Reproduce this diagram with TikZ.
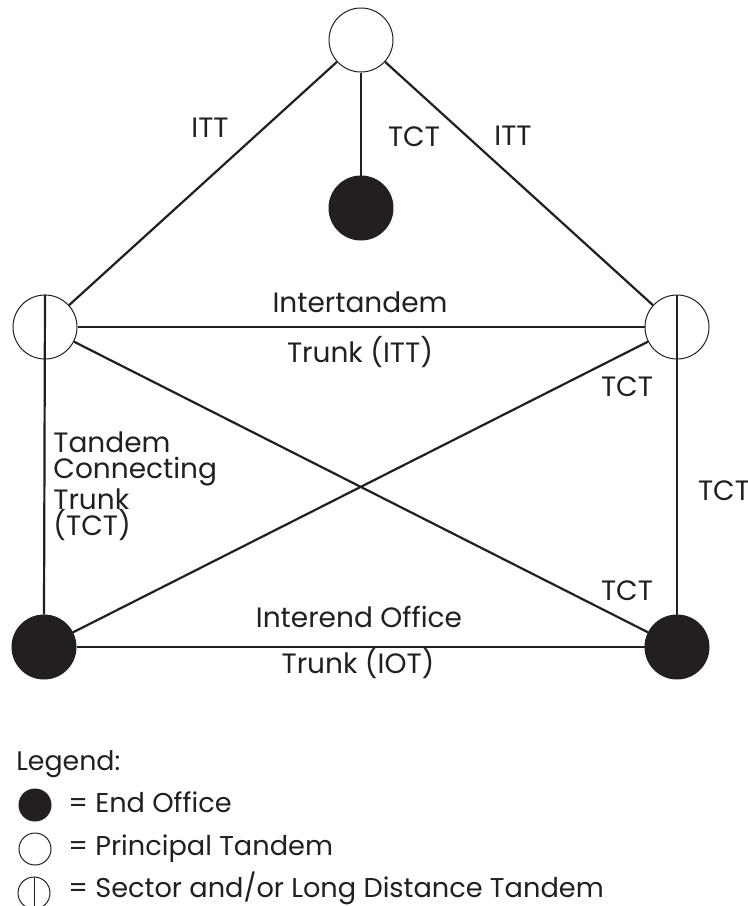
\documentclass[tikz,border=0pt]{standalone}
\usepackage{fontspec}
\setmainfont{Poppins}
\usepackage{tikz}
\usetikzlibrary{positioning}
\definecolor{trunkblack}{RGB}{35,31,32}
\tikzset{
  endoffice/.style={circle, fill=trunkblack, draw=trunkblack, line width=0.5pt, minimum size=32pt, inner sep=0pt},
  tandem/.style={circle, draw=trunkblack, fill=white, line width=0.5pt, minimum size=32pt, inner sep=0pt},
  trunk/.style={draw=trunkblack, line width=1.1pt},
  lbl/.style={font=\fontsize{14}{16}\selectfont, text=trunkblack, inner sep=0pt, anchor=base},
  keylbl/.style={font=\fontsize{13.6}{15}\selectfont, text=trunkblack, inner sep=0pt, anchor=base west},
}

\begin{document}
\begin{tikzpicture}[x=0.5pt, y=-0.5pt]
    \useasboundingbox (0,0) rectangle (748,906);

    % Offices
    \node[tandem] (pt) at (361,40) {};
    \node[endoffice] (eoT) at (361,208) {};
    \node[tandem] (stL) at (45,327) {};
    \node[tandem] (stR) at (677,327) {};
    \node[endoffice] (eoL) at (44,647) {};
    \node[endoffice] (eoR) at (677,647) {};

    % Trunks
    \draw[trunk] (pt) -- (stL);
    \draw[trunk] (pt) -- (stR);
    \draw[trunk] (pt.south) -- (eoT.north);
    \draw[trunk] (stL) -- (stR);
    \draw[trunk] (stL) -- (eoR);
    \draw[trunk] (stR) -- (eoL);
    \draw[trunk] (stL.north) -- (eoL.north);
    \draw[trunk] (stR.north) -- (eoR.north);
    \draw[trunk] (eoL) -- (eoR);

    % Labels
    \node[lbl] (ittL) at (210,137) {ITT};
    \node[lbl] (tctT) at (414,146) {TCT};
    \node[lbl] (ittR) at (513,145) {ITT};
    \node[lbl] (itA) at (360,312) {Intertandem};
    \node[lbl] (itB) at (360,362) {Trunk (ITT)};
    \node[lbl] (tctA) at (627,396) {TCT};
    \node[lbl] (tctB) at (724,500) {TCT};
    \node[lbl] (tctC) at (627,600) {TCT};
    \node[lbl, anchor=north west, align=left, font=\fontsize{14}{13.3}\selectfont] (tctL) at (53,431) {Tandem\\Connecting\\Trunk\\(TCT)};
    \node[lbl] (iotA) at (359,627) {Interend Office};
    \node[lbl] (iotB) at (358,673) {Trunk (IOT)};

    % Legend
    \node[lbl, anchor=base west, font=\fontsize{13.4}{15}\selectfont] (legend) at (16,770) {Legend:};
    \node[endoffice, minimum size=16pt] (keyEO) at (35,805) {};
    \node[keylbl] (keyEOtxt) at (68,812) {= End Office};
    \node[tandem, minimum size=16pt] (keyPT) at (35,849) {};
    \node[keylbl] (keyPTtxt) at (68,855) {= Principal Tandem};
    \node[tandem, minimum size=16pt] (keyST) at (34,893) {};
    \draw[trunkblack, line width=0.4pt] (keyST.north) -- (keyST.south);
    \node[keylbl] (keySTtxt) at (68,897) {= Sector and/or Long Distance Tandem};
\end{tikzpicture}
\end{document}
